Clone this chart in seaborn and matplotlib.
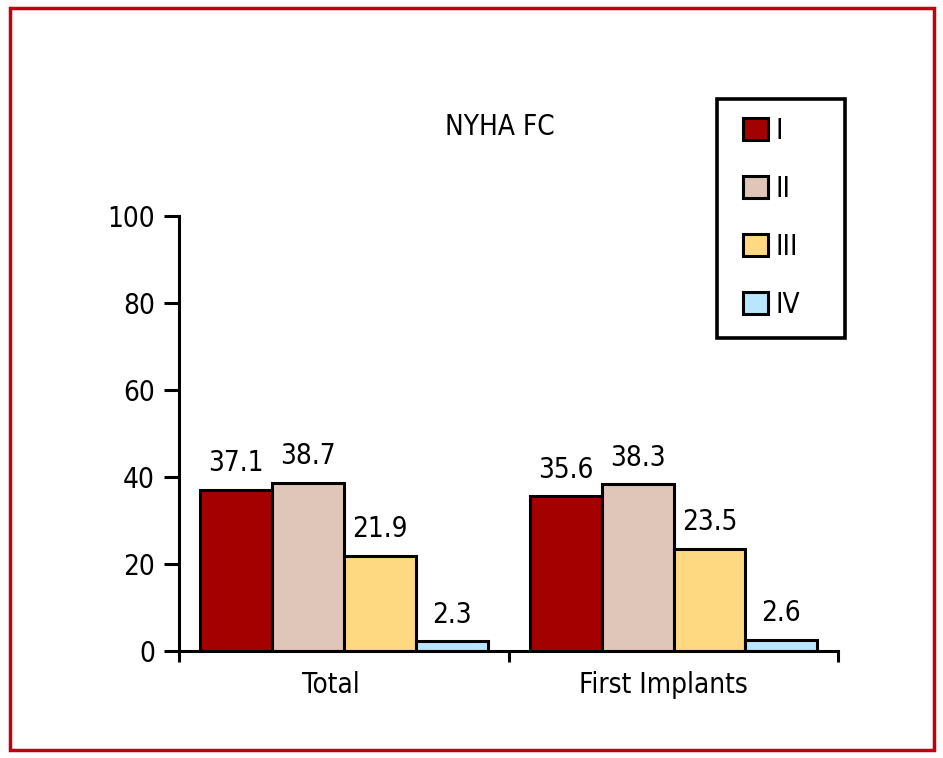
import seaborn as sns
import matplotlib.pyplot as plt
import pandas as pd
from matplotlib.patches import Rectangle, Patch
from matplotlib import font_manager

groups = ["Total", "First Implants"]
classes = ["I", "II", "III", "IV"]
total_vals = [37.1, 38.7, 21.9, 2.3]
first_vals = [35.6, 38.3, 23.5, 2.6]
colors = ["#A50000", "#E0C5B9", "#FFD982", "#B9E5FF"]

df = pd.DataFrame({
    "group": [groups[0]] * 4 + [groups[1]] * 4,
    "cls": classes + classes,
    "value": total_vals + first_vals,
})

sns.set_theme(style="white")
names = set(f.name for f in font_manager.fontManager.ttflist)
fams = [n for n in ['Liberation Sans Narrow', 'DejaVu Sans Condensed'] if n in names]
plt.rcParams['font.family'] = fams + ['DejaVu Sans']
if not fams:
    plt.rcParams['font.stretch'] = 'condensed'
plt.rcParams['text.color'] = 'black'
plt.rcParams['xtick.color'] = 'black'
plt.rcParams['ytick.color'] = 'black'

fig = plt.figure(figsize=(9.43, 7.58), dpi=100)
ax = fig.add_axes([0.19, 0.141, 0.699, 0.574])

sns.barplot(data=df, x="group", y="value", hue="cls", order=groups,
            hue_order=classes, palette=colors, width=0.873, saturation=1,
            edgecolor="black", linewidth=2.2, ax=ax, legend=False)

for cont in ax.containers:
    ax.bar_label(cont, fmt="%.1f", padding=9, fontsize=20)

ax.set_ylim(0, 100)
ax.set_xlim(-0.5, 1.5)
ax.set_yticks([0, 20, 40, 60, 80, 100])
ax.tick_params(axis="y", direction="out", length=10.5, width=2.2, labelsize=20,
               left=True, pad=7)
ax.set_xticks([-0.5, 0.5, 1.5])
ax.set_xticklabels(["", "", ""])
ax.tick_params(axis="x", which="major", direction="out", length=8, width=2.2,
               bottom=True)
ax.set_xticks([-0.04, 0.97], minor=True)
ax.set_xticklabels(groups, minor=True)
ax.tick_params(axis="x", which="minor", length=0, labelsize=20, pad=14)
ax.set_xlabel("")
ax.set_ylabel("")
for s in ["top", "right"]:
    ax.spines[s].set_visible(False)
for s in ["left", "bottom"]:
    ax.spines[s].set_linewidth(2.2)
    ax.spines[s].set_color("black")

fig.text(0.53, 0.832, "NYHA FC", ha="center", va="center", fontsize=20)

# legend box drawn separately so its size matches
fig.patches.append(Rectangle((0.760, 0.554), 0.136, 0.315, transform=fig.transFigure,
                             fill=False, edgecolor="black", linewidth=2.6))
handles = [Patch(facecolor=c, edgecolor="black", linewidth=2.2) for c in colors]
fig.legend(handles, classes, loc="upper left", bbox_to_anchor=(0.788, 0.846),
           frameon=False, fontsize=20, handlelength=0.88, handleheight=0.88,
           labelspacing=1.08, borderpad=0, handletextpad=0.3, borderaxespad=0)

border = Rectangle((0.011, 0.011), 0.979, 0.978, transform=fig.transFigure,
                   fill=False, edgecolor="#BE0010", linewidth=2.5)
fig.patches.append(border)

fig.savefig("out.png", dpi=100)
